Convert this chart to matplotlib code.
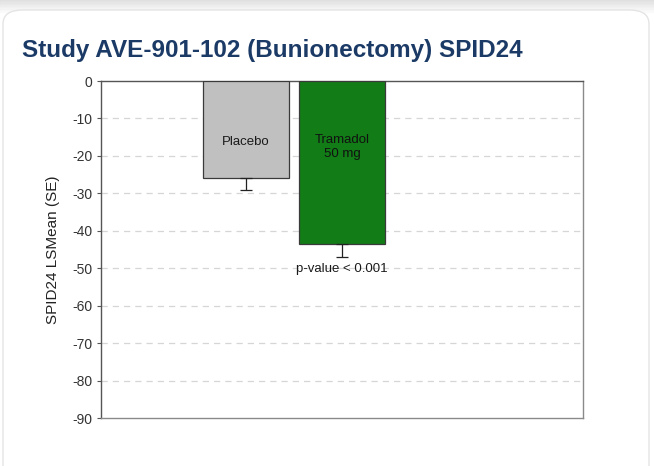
import matplotlib
matplotlib.use("Agg")
import matplotlib.pyplot as plt
from matplotlib.patches import FancyBboxPatch, Rectangle
import numpy as np

plt.rcParams['font.family'] = ['Liberation Sans', 'DejaVu Sans']

groups = ['Placebo', 'Tramadol\n50 mg']
lsmean = [-25.9, -43.6]
se = [3.3, 3.4]
bar_colors = ['#c0c0c0', '#127d17']
y_ticks = list(range(0, -100, -10))
title = 'Study AVE-901-102 (Bunionectomy) SPID24'
y_label = 'SPID24 LSMean (SE)'
p_text = 'p-value < 0.001'

fig = plt.figure(figsize=(6.54, 4.66), dpi=100)
fig.patch.set_facecolor('white')

# card background with soft shadow on top
for i in range(10):
    g = 0.88 + i * 0.011
    fig.patches.append(Rectangle((0, 1 - (i + 1) / 466 * 1.2), 1, 1.2 / 466,
                                 transform=fig.transFigure, color=(g, g, g), zorder=0))
card = FancyBboxPatch((3 / 654, -0.05), 646 / 654, (456 / 466) + 0.05,
                      boxstyle='round,pad=0,rounding_size=0.03',
                      transform=fig.transFigure, facecolor='white',
                      edgecolor='#e4e4e4', linewidth=1.0, zorder=1)
fig.patches.append(card)

fig.text(22 / 654, 1 - 51 / 466, title, fontsize=17.5, fontweight='bold',
         color='#1b3a66', va='center', ha='left', zorder=5)

ax = fig.add_axes([101 / 654, 1 - 418 / 466, 482 / 654, 337 / 466])
ax.set_zorder(3)
ax.set_facecolor('white')

x = np.arange(len(groups))
bars = ax.bar(x, lsmean, width=0.9, color=bar_colors, edgecolor='#3a3a3a',
              linewidth=0.9, zorder=3)
ax.errorbar(x, lsmean, yerr=[se, [0] * len(se)], fmt='none', ecolor='#222222',
            elinewidth=0.9, capsize=4, capthick=0.9, zorder=4)

ax.text(x[0], -16.4, groups[0], ha='center', va='center', fontsize=9.5, color='#1a1a1a', zorder=5)
ax.text(x[1], -17.6, groups[1], ha='center', va='center', fontsize=9.5, color='#111111',
        linespacing=1.25, zorder=5)
ax.text(x[1], lsmean[1] - se[1] - 3.3, p_text, ha='center', va='center', fontsize=9.5,
        color='#1a1a1a', zorder=5)

ax.set_xlim(-1.51, 3.51)
ax.set_ylim(-90, 0)
ax.set_yticks(y_ticks)
ax.set_yticklabels([str(t) for t in y_ticks])
ax.set_xticks([])
for t in y_ticks[1:-1]:
    ax.axhline(t, color='#d6d6d6', linestyle=(0, (5, 4)), linewidth=0.9, zorder=1)

for s in ['top', 'right', 'bottom']:
    ax.spines[s].set_color('#8a8a8a')
    ax.spines[s].set_linewidth(1.0)
ax.spines['left'].set_color('#555555')
ax.spines['left'].set_linewidth(1.0)
ax.spines['top'].set_color('#555555')
ax.tick_params(axis='y', length=3, width=0.8, color='#555555', labelsize=10,
               labelcolor='#333333', pad=3)

ax.set_ylabel(y_label, fontsize=11, color='#222222', labelpad=9)

fig.savefig('out.png', dpi=100, facecolor=fig.get_facecolor())
